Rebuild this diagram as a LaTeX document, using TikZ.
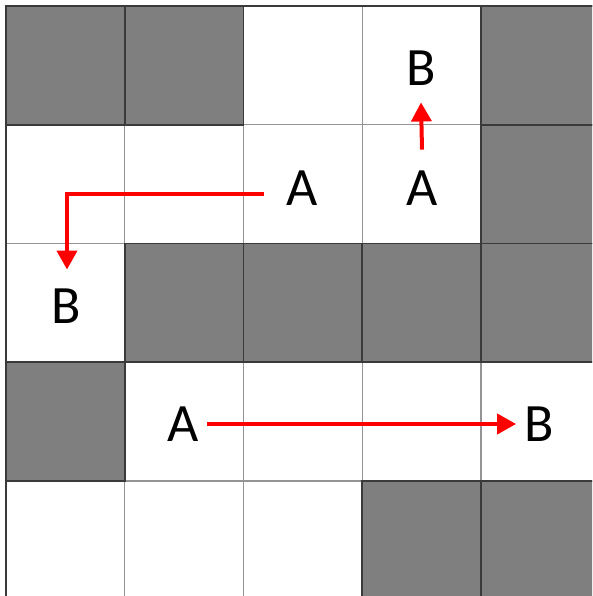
\documentclass[tikz,border=0pt]{standalone}
\usepackage{fontspec}
\setmainfont{Carlito}
\usetikzlibrary{arrows.meta}
\definecolor{cellgray}{HTML}{7F7F7F}
\definecolor{gridline}{HTML}{949494}
\definecolor{darkline}{HTML}{3A3A3A}
\tikzset{
  cell/.style={fill=cellgray,draw=darkline,line width=1.6pt},
  lbl/.style={font=\fontsize{54}{54}\selectfont,inner sep=0pt,text height=34.5pt,text depth=0pt},
  arr/.style={draw=red,line width=4pt,-{Triangle[length=19pt,width=20pt]}}
}
\begin{document}
\begin{tikzpicture}[x=1pt,y=-1pt]
\useasboundingbox (0,0) rectangle (592,596);
\fill[white] (0,0) rectangle (592,596);
\begin{scope}
\clip (0,0) rectangle (592,596);
\def\s{118.75}
\def\o{6}
% grid lines
\foreach \k in {0,...,5}{
  \draw[gridline,line width=1.4pt] (\o+\k*\s,\o) -- (\o+\k*\s,\o+5*\s);
  \draw[gridline,line width=1.4pt] (\o,\o+\k*\s) -- (\o+5*\s,\o+\k*\s);
}
% gray cells (row/column)
\foreach \r/\c in {0/0,0/1,0/4,1/4,2/1,2/2,2/3,2/4,3/0,4/3,4/4}{
  \draw[cell] (\o+\c*\s,\o+\r*\s) rectangle (\o+\c*\s+\s,\o+\r*\s+\s);
}
\draw[darkline,line width=1.6pt] (\o,\o+5*\s) -- (\o,\o) -- (\o+5*\s,\o);
\end{scope}
% labels
\node[lbl] (b1) at (421,68) {B};
\node[lbl] (a1) at (422,188) {A};
\node[lbl] (a2) at (302,188) {A};
\node[lbl] (b2) at (66,306) {B};
\node[lbl] (a3) at (183,424) {A};
\node[lbl] (b3) at (539,424) {B};
% arrows
\draw[arr] ([yshift=21pt]a1.north) -- ([yshift=-17pt]b1.south);
\draw[arr] ([xshift=-22pt,yshift=-6pt]a2.west) -| ([xshift=1pt,yshift=19pt]b2.north);
\draw[arr] ([xshift=8pt]a3.east) -- ([xshift=-8pt]b3.west);
\end{tikzpicture}
\end{document}
